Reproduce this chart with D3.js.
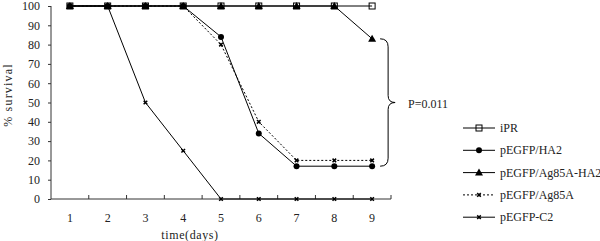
<!DOCTYPE html>
<html>
<head>
<meta charset="utf-8">
<script src="https://cdn.jsdelivr.net/npm/d3@7"></script>
<style>
  body { margin: 0; background: #fff; }
  text { font-family: "Liberation Serif", "DejaVu Serif", serif; font-size: 12px; fill: #222; }
</style>
</head>
<body>
<svg id="chart"></svg>
<script>
const days = [1, 2, 3, 4, 5, 6, 7, 8, 9];
const yTicks = [0, 10, 20, 30, 40, 50, 60, 70, 80, 90, 100];
const seriesNames = ["iPR", "pEGFP/HA2", "pEGFP/Ag85A-HA2", "pEGFP/Ag85A", "pEGFP-C2"];
const iPR = [100, 100, 100, 100, 100, 100, 100, 100, 100];
const ha2 = [100, 100, 100, 100, 84, 34, 17, 17, 17];
const ag85aHa2 = [100, 100, 100, 100, 100, 100, 100, 100, 83];
const ag85a = [100, 100, 100, 100, 80, 40, 20, 20, 20];
const c2 = [100, 100, 50, 25, 0, 0, 0, 0, 0];
const pLabel = "P=0.011";

window.addEventListener("load", () => {
  const svg = d3.select("#chart").attr("width", 600).attr("height", 241);

  const x = d3.scaleBand().domain(days).range([51, 391]);
  const cx = d => x(d) + x.bandwidth() / 2;
  const y = d3.scaleLinear().domain([0, 100]).range([199, 6]);

  // y axis
  const yAxis = svg.append("g").attr("transform", "translate(51,0)")
    .call(d3.axisLeft(y).tickValues(yTicks).tickSize(3).tickPadding(8));
  yAxis.select(".domain").attr("stroke", "#333").attr("d", "M0," + y(100) + "V" + y(0));
  yAxis.selectAll(".tick line").attr("stroke", "#333");
  yAxis.selectAll("text").style("font-family", "Liberation Serif").style("font-size", "12px").attr("fill", "#222");

  // x axis: labels at band centres, ticks at band edges
  const xAxis = svg.append("g").attr("transform", "translate(0," + y(0) + ")")
    .call(d3.axisBottom(x).tickSize(0).tickPadding(14));
  xAxis.select(".domain").attr("stroke", "#333").attr("d", "M51,0H391");
  xAxis.selectAll("text").style("font-family", "Liberation Serif").style("font-size", "12px").attr("fill", "#222");
  const edges = days.map(d => x(d)).slice(1).concat([x.range()[1]]);
  svg.append("g").selectAll("line").data(edges).enter().append("line")
    .attr("x1", d => d).attr("x2", d => d)
    .attr("y1", y(0)).attr("y2", y(0) - 4)
    .attr("stroke", "#333");

  svg.append("text").attr("x", 190).attr("y", 239).attr("text-anchor", "middle")
    .attr("letter-spacing", 0.6).text("time(days)");
  svg.append("text").attr("transform", "translate(12,95) rotate(-90)")
    .attr("text-anchor", "middle").attr("letter-spacing", 1.2).text("% survival");

  const line = d3.line().x((v, i) => cx(days[i])).y(v => y(v));

  const drawMarker = (g, type, px, py) => {
    if (type === "square") {
      g.append("rect").attr("x", px - 3).attr("y", py - 3).attr("width", 6).attr("height", 6)
        .attr("fill", "none").attr("stroke", "#000").attr("stroke-width", 1);
    } else if (type === "circle") {
      g.append("circle").attr("cx", px).attr("cy", py).attr("r", 3).attr("fill", "#000");
    } else if (type === "triangle") {
      g.append("path").attr("d", `M${px},${py - 4}L${px + 4},${py + 3}L${px - 4},${py + 3}Z`).attr("fill", "#000");
    } else if (type === "x") {
      g.append("path").attr("d", `M${px - 1.8},${py - 1.8}L${px + 1.8},${py + 1.8}M${px + 1.8},${py - 1.8}L${px - 1.8},${py + 1.8}`)
        .attr("stroke", "#000").attr("stroke-width", 1.5);
    }
  };

  const series = [
    { name: seriesNames[4], values: c2, marker: "x", dash: null },
    { name: seriesNames[3], values: ag85a, marker: "x", dash: "2,2" },
    { name: seriesNames[1], values: ha2, marker: "circle", dash: null },
    { name: seriesNames[2], values: ag85aHa2, marker: "triangle", dash: null },
    { name: seriesNames[0], values: iPR, marker: "square", dash: null }
  ];

  series.forEach(s => {
    const g = svg.append("g");
    g.append("path").attr("d", line(s.values)).attr("fill", "none")
      .attr("stroke", "#000").attr("stroke-width", 1)
      .attr("stroke-dasharray", s.dash);
    s.values.forEach((v, i) => drawMarker(g, s.marker, cx(days[i]), y(v)));
  });

  // brace between day-9 values of Ag85A-HA2 and HA2
  const bx = cx(9) + 8, top = y(ag85aHa2[8]), bot = y(ha2[8]), mid = (top + bot) / 2;
  svg.append("path")
    .attr("d", `M${bx},${top} Q${bx + 8},${top} ${bx + 8},${top + 8} L${bx + 8},${mid - 7} Q${bx + 8},${mid} ${bx + 15},${mid}` +
      ` Q${bx + 8},${mid} ${bx + 8},${mid + 7} L${bx + 8},${bot - 8} Q${bx + 8},${bot} ${bx},${bot}`)
    .attr("fill", "none").attr("stroke", "#000").attr("stroke-width", 1);
  svg.append("text").attr("x", 408).attr("y", mid + 5).text(pLabel);

  // legend
  const legend = [
    { name: seriesNames[0], marker: "square", dash: null },
    { name: seriesNames[1], marker: "circle", dash: null },
    { name: seriesNames[2], marker: "triangle", dash: null },
    { name: seriesNames[3], marker: "x", dash: "2,2" },
    { name: seriesNames[4], marker: "x", dash: null }
  ];
  legend.forEach((l, i) => {
    const ly = 128 + i * 22.3;
    const g = svg.append("g");
    g.append("line").attr("x1", 463).attr("x2", 495).attr("y1", ly).attr("y2", ly)
      .attr("stroke", "#000").attr("stroke-dasharray", l.dash);
    drawMarker(g, l.marker, 479, ly);
    g.append("text").attr("x", 500).attr("y", ly + 4).text(l.name);
  });
});
</script>
</body>
</html>
